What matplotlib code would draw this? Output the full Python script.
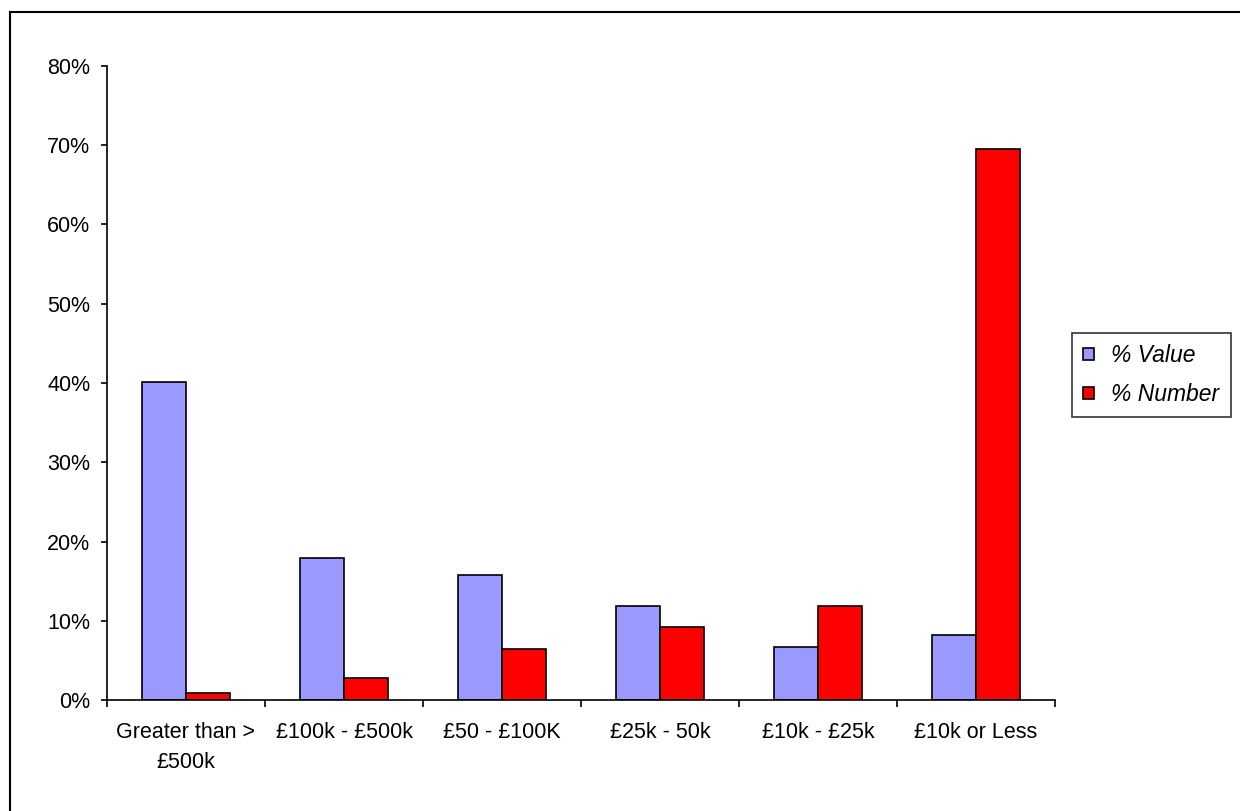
import matplotlib.pyplot as plt
import numpy as np
from matplotlib.lines import Line2D
from matplotlib.ticker import PercentFormatter

plt.rcParams['font.family'] = ['Liberation Sans', 'DejaVu Sans']

# Data
categories = ['Greater than >\n£500k', '£100k - £500k', '£50 - £100K',
              '£25k - 50k', '£10k - £25k', '£10k or Less']
pct_value = [40.1, 17.9, 15.8, 11.9, 6.7, 8.2]
pct_number = [0.85, 2.8, 6.4, 9.2, 11.9, 69.5]

W, H = 1240, 811
fig = plt.figure(figsize=(W / 100, H / 100), dpi=100)
ax = fig.add_axes([107 / W, 1 - 700 / H, (1055 - 107) / W, (700 - 66) / H])

x = np.arange(len(categories))
bw = 0.28
ax.bar(x - bw / 2, pct_value, bw, color='#9999ff', edgecolor='black',
       linewidth=1.2, label='% Value')
ax.bar(x + bw / 2, pct_number, bw, color='#ff0000', edgecolor='black',
       linewidth=1.2, label='% Number')

ax.set_xlim(-0.5, len(categories) - 0.5)
ax.set_ylim(0, 80)
ax.set_yticks(np.arange(0, 81, 10))
ax.yaxis.set_major_formatter(PercentFormatter(decimals=0))
ax.tick_params(axis='y', labelsize=15.5, length=4, width=1.2, pad=8)

# category labels centred, tick marks on the boundaries
ax.set_xticks(x)
ax.set_xticklabels(categories, fontsize=15.5, linespacing=1.55)
ax.tick_params(axis='x', length=0, pad=16)
ax.set_xticks(np.arange(-0.5, len(categories), 1), minor=True)
ax.tick_params(axis='x', which='minor', length=5, width=1.2, direction='out')

for s in ['top', 'right']:
    ax.spines[s].set_visible(False)
for s in ['left', 'bottom']:
    ax.spines[s].set_linewidth(1.2)

leg = ax.legend(loc='center left', bbox_to_anchor=(1072 / W, 1 - 375 / H),
                bbox_transform=fig.transFigure, frameon=True, fancybox=False,
                edgecolor='black', handlelength=0.45, handleheight=0.45,
                handletextpad=0.75, borderpad=0.5, borderaxespad=0,
                labelspacing=0.7, prop={'style': 'italic', 'size': 16.5})
leg.get_frame().set_linewidth(1.2)

# outer chart border (cropped at right and bottom)
fig.add_artist(Line2D([10 / W, 10 / W], [0, 1 - 12 / H], color='black',
                      linewidth=1.5, transform=fig.transFigure))
fig.add_artist(Line2D([10 / W, 1], [1 - 12 / H, 1 - 12 / H], color='black',
                      linewidth=1.5, transform=fig.transFigure))

fig.savefig('out.png', dpi=100)
